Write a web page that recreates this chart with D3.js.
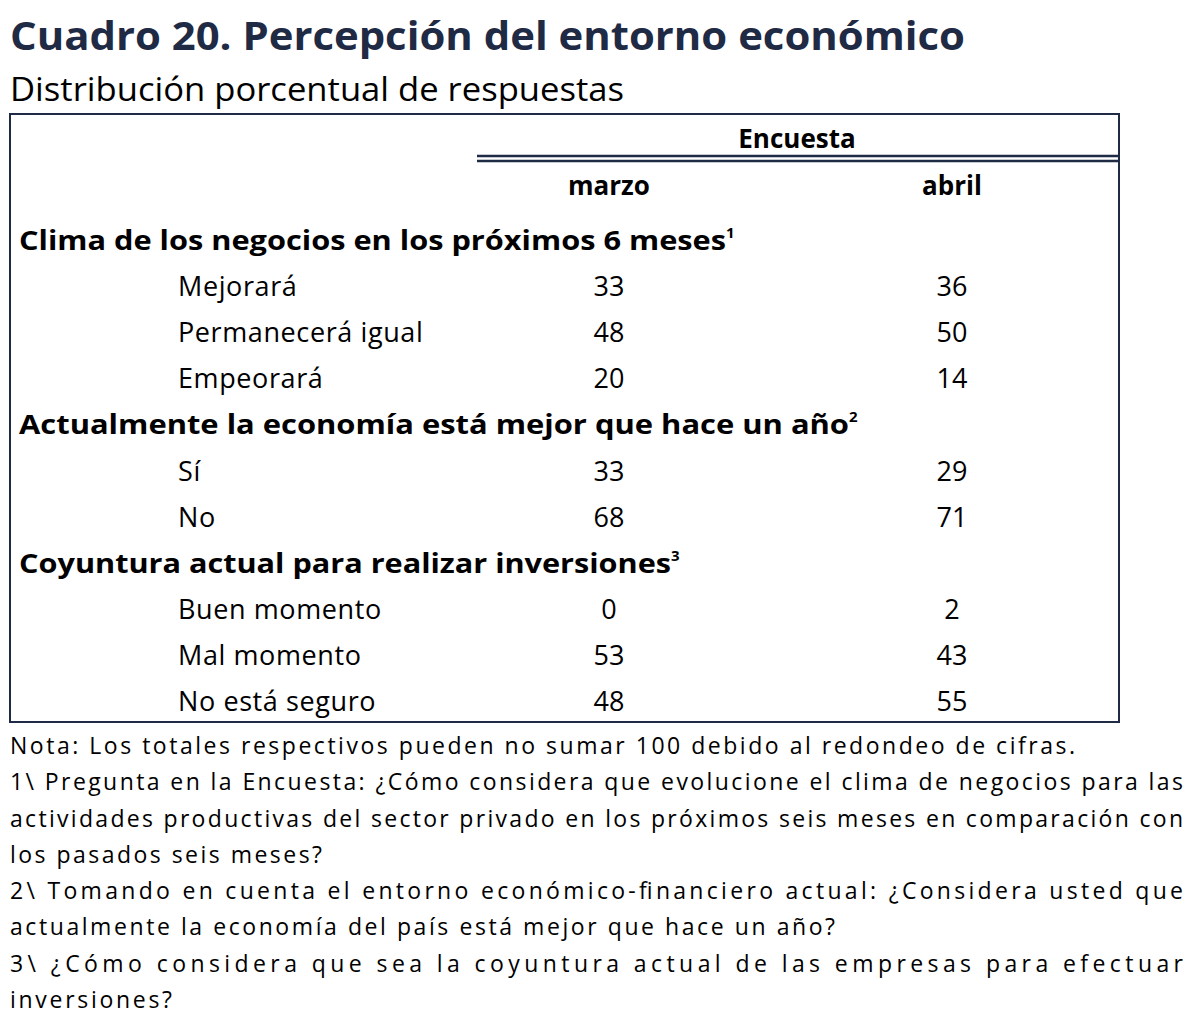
<!DOCTYPE html>
<html><head><meta charset="utf-8">
<script src="https://cdn.jsdelivr.net/npm/d3@7"></script>
<style>body{margin:0;background:#fff}</style>
</head><body><svg id="c"></svg>
<script>
const months = ['marzo', 'abril'];
const sections = [
  {title: 'Clima de los negocios en los próximos 6 meses', sup: '1',
   labels: ['Mejorará', 'Permanecerá igual', 'Empeorará'],
   marzo: [33, 48, 20], abril: [36, 50, 14]},
  {title: 'Actualmente la economía está mejor que hace un año', sup: '2',
   labels: ['Sí', 'No'], marzo: [33, 68], abril: [29, 71]},
  {title: 'Coyuntura actual para realizar inversiones', sup: '3',
   labels: ['Buen momento', 'Mal momento', 'No está seguro'],
   marzo: [0, 53, 48], abril: [2, 43, 55]}
];
const notes = [
  ['Nota: Los totales respectivos pueden no sumar 100 debido al redondeo de cifras.', 1065],
  ['1\\ Pregunta en la Encuesta: ¿Cómo considera que evolucione el clima de negocios para las', 1173],
  ['actividades productivas del sector privado en los próximos seis meses en comparación con', 1173],
  ['los pasados seis meses?', 312],
  ['2\\ Tomando en cuenta el entorno económico-financiero actual: ¿Considera usted que', 1173],
  ['actualmente la economía del país está mejor que hace un año?', 825],
  ['3\\ ¿Cómo considera que sea la coyuntura actual de las empresas para efectuar', 1173],
  ['inversiones?', 162]
];

const W = 1196, H = 1024, ink = '#000', frame = '#1f2a44';
const font = '"Open Sans", "Noto Sans", sans-serif';
const svg = d3.select('#c').attr('width', W).attr('height', H).style('font-family', font);

svg.append('text').attr('x', 10).attr('y', 50).attr('font-size', 40).attr('font-weight', 700)
  .attr('fill', '#1f2a44').attr('textLength', 955).attr('lengthAdjust', 'spacingAndGlyphs')
  .text('Cuadro 20. Percepción del entorno económico');
svg.append('text').attr('x', 10).attr('y', 101).attr('font-size', 32).attr('fill', ink)
  .attr('textLength', 614).attr('lengthAdjust', 'spacingAndGlyphs').text('Distribución porcentual de respuestas');

svg.append('rect').attr('x', 10).attr('y', 114).attr('width', 1109).attr('height', 608)
  .attr('fill', 'none').attr('stroke', frame).attr('stroke-width', 2);
[156, 161].forEach(y => svg.append('line').attr('x1', 477).attr('x2', 1118).attr('y1', y).attr('y2', y)
  .attr('stroke', frame).attr('stroke-width', 2.5));

const x = d3.scalePoint().domain(months).range([609, 952]);
svg.append('text').attr('x', 797).attr('y', 148).attr('text-anchor', 'middle')
  .attr('font-size', 26).attr('font-weight', 700).text('Encuesta');
svg.selectAll('.mh').data(months).enter().append('text').attr('class', 'mh')
  .attr('x', d => x(d)).attr('y', 195).attr('text-anchor', 'middle')
  .attr('font-size', 26).attr('font-weight', 700).text(d => d);

const rows = [];
sections.forEach(s => {
  rows.push({head: true, s});
  s.labels.forEach((l, i) => rows.push({head: false, label: l, vals: [s.marzo[i], s.abril[i]]}));
});
const y = d3.scaleLinear().domain([0, rows.length - 1]).range([250, 711]);
const titleLen = [707, 830, 652];
let si = 0;
rows.forEach((r, i) => {
  const yy = y(i);
  if (r.head) {
    const t = svg.append('text').attr('x', 19).attr('y', yy).attr('font-size', 26).attr('font-weight', 700);
    t.append('tspan').attr('textLength', titleLen[si++]).attr('lengthAdjust', 'spacingAndGlyphs').text(r.s.title);
    t.append('tspan').attr('dy', -12).attr('font-size', 15).text(r.s.sup);
  } else {
    svg.append('text').attr('x', 178).attr('y', yy).attr('font-size', 27)
      .style('letter-spacing', '0.6px').text(r.label);
    months.forEach((m, j) => svg.append('text').attr('x', x(m)).attr('y', yy)
      .attr('text-anchor', 'middle').attr('font-size', 27).text(r.vals[j]));
  }
});

const ny = d3.scaleLinear().domain([0, notes.length - 1]).range([754, 1008]);
notes.forEach(([t, len], i) => {
  svg.append('text').attr('x', 10).attr('y', ny(i)).attr('font-size', 23)
    .attr('textLength', len).attr('lengthAdjust', 'spacing').text(t);
});
</script></body></html>
